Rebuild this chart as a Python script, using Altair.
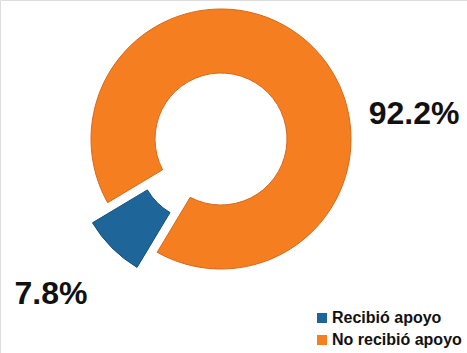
import math
import altair as alt
import pandas as pd

categories = ["Recibió apoyo", "No recibió apoyo"]
values = [7.8, 92.2]
colors = ["#1E6699", "#F57F20"]

df = pd.DataFrame({"cat": categories, "value": values})

start_angle = math.radians(211)

base = alt.Chart(df).transform_window(
    cum="sum(value)", frame=[None, 0]
).transform_calculate(
    start="datum.cum - datum.value",
    label="format(datum.value, '.1f') + '%'",
)

theta_scale = alt.Scale(domain=[0, 100], range=[start_angle, start_angle + 2 * math.pi])
color = alt.Color(
    "cat:N",
    scale=alt.Scale(domain=categories, range=colors),
    legend=alt.Legend(
        title=None,
        orient="none",
        legendX=314,
        legendY=310,
        symbolType="square",
        symbolSize=100,
        symbolStrokeWidth=0,
        labelFont="Liberation Sans",
        labelFontSize=16,
        labelFontWeight="bold",
        labelColor="#111111",
        labelOffset=2,
        rowPadding=6,
    ),
)

ring = base.transform_filter(alt.datum.cat == categories[1]).mark_arc(
    outerRadius=130, innerRadius=66, padAngle=0.05, stroke="#D9681A", strokeWidth=1
).encode(
    theta=alt.Theta("start:Q", scale=theta_scale),
    theta2="cum:Q",
    color=color,
    x=alt.value(221),
    y=alt.value(139),
)

piece = base.transform_filter(alt.datum.cat == categories[0]).mark_arc(
    outerRadius=130, innerRadius=66, stroke="#164F78", strokeWidth=1
).encode(
    theta=alt.Theta("start:Q", scale=theta_scale),
    theta2="cum:Q",
    color=color,
    x=alt.value(204),
    y=alt.value(156),
)

txt = dict(font="Liberation Sans", fontWeight="bold", fontSize=32, color="#111111",
           align="center", baseline="middle")

label_big = base.transform_filter(alt.datum.cat == categories[1]).mark_text(**txt).encode(
    text="label:N", x=alt.value(414), y=alt.value(114)
)
label_small = base.transform_filter(alt.datum.cat == categories[0]).mark_text(**txt).encode(
    text="label:N", x=alt.value(51), y=alt.value(294)
)

chart = alt.layer(ring, piece, label_big, label_small).properties(
    width=467, height=353, padding=0,
    autosize=alt.AutoSizeParams(type="none"),
).configure_view(stroke=None).configure(background="white")

chart.save("out.html", embed_options={"renderer": "svg", "actions": False})
